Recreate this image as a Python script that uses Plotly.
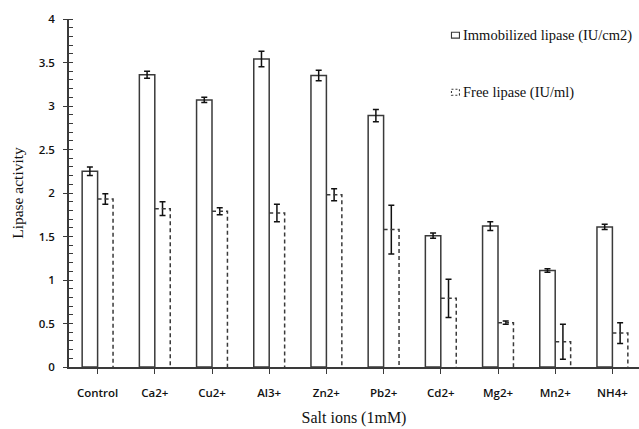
import plotly.graph_objects as go

# Lipase activity under different salt ions (1 mM)
categories = ["Control", "Ca2+", "Cu2+", "Al3+", "Zn2+", "Pb2+", "Cd2+", "Mg2+", "Mn2+", "NH4+"]
immobilized = [2.25, 3.36, 3.07, 3.54, 3.35, 2.89, 1.51, 1.62, 1.11, 1.61]
immobilized_err = [0.05, 0.04, 0.03, 0.09, 0.06, 0.07, 0.03, 0.05, 0.02, 0.03]
free = [1.93, 1.82, 1.79, 1.77, 1.98, 1.58, 0.79, 0.51, 0.29, 0.39]
free_err = [0.06, 0.08, 0.04, 0.10, 0.07, 0.28, 0.22, 0.02, 0.20, 0.12]
y_ticks = [0, 0.5, 1, 1.5, 2, 2.5, 3, 3.5, 4]

BAR_W = 0.27
INK = "#3a3a3a"
DASH = "4px,3px"
xs = list(range(len(categories)))

fig = go.Figure()

err_style = dict(type="data", visible=True, color="#111111", thickness=1.5, width=3)

fig.add_trace(go.Bar(
    x=xs, y=immobilized, name="Immobilized lipase (IU/cm2)",
    width=BAR_W, offset=-BAR_W,
    marker=dict(color="white", line=dict(color=INK, width=1.5)),
    error_y=dict(array=immobilized_err, **err_style),
    showlegend=False,
))

fig.add_trace(go.Bar(
    x=xs, y=free, name="Free lipase (IU/ml)",
    width=BAR_W, offset=0,
    marker=dict(color="rgba(255,255,255,0)", line=dict(width=0)),
    error_y=dict(array=free_err, **err_style),
    showlegend=False,
))

# dashed outlines (top and right side) for the free-lipase bars;
# the left side coincides with the neighbouring solid bar edge
shapes = []
for x, v in zip(xs, free):
    shapes.append(dict(
        type="path", xref="x", yref="y",
        path=f"M {x},{v} L {x + BAR_W},{v} L {x + BAR_W},0",
        line=dict(color=INK, width=1.5, dash=DASH),
        layer="above",
    ))

# legend keys
shapes.append(dict(type="rect", xref="paper", yref="paper",
                   x0=0.671, x1=0.685, y0=0.962, y1=0.945,
                   line=dict(color=INK, width=1.1), fillcolor="white"))
shapes.append(dict(type="rect", xref="paper", yref="paper",
                   x0=0.671, x1=0.685, y0=0.798, y1=0.781,
                   line=dict(color=INK, width=1.1, dash="2px,2px"), fillcolor="white"))

serif = "Liberation Serif"
annotations = [
    dict(text="Immobilized lipase (IU/cm2)", xref="paper", yref="paper",
         x=0.688, y=0.953, xanchor="left", yanchor="middle", showarrow=False,
         font=dict(family=serif, size=14.5, color="#111111")),
    dict(text="Free lipase (IU/ml)", xref="paper", yref="paper",
         x=0.688, y=0.789, xanchor="left", yanchor="middle", showarrow=False,
         font=dict(family=serif, size=14.5, color="#111111")),
]

fig.update_layout(
    width=639, height=429,
    margin=dict(l=69, r=0, t=19, b=62),
    paper_bgcolor="white", plot_bgcolor="white",
    shapes=shapes, annotations=annotations,
    showlegend=False,
)

fig.update_xaxes(
    range=[-0.5, 9.465],
    tickmode="array", tickvals=xs, ticktext=categories,
    showline=True, linecolor=INK, linewidth=1.5,
    ticks="outside", ticklen=5, tickcolor=INK, tickwidth=1.2,
    ticklabelstandoff=9,
    tickfont=dict(family="Open Sans", size=11.5, color="#111111", weight=600),
    showgrid=False, zeroline=False,
    title=dict(text="Salt ions (1mM)", standoff=13,
               font=dict(family=serif, size=16, color="#111111")),
)

fig.update_yaxes(
    range=[0, 4],
    tickmode="array", tickvals=y_ticks,
    ticktext=[f"{v:g}" for v in y_ticks],
    showline=True, linecolor=INK, linewidth=1.5,
    ticks="outside", ticklen=4, tickcolor=INK, tickwidth=1.2,
    ticklabelstandoff=6,
    tickfont=dict(family="Open Sans", size=11.5, color="#111111", weight=600),
    minor=dict(dtick=0.1, ticks="inside", ticklen=4, tickcolor=INK, tickwidth=1, showgrid=False),
    showgrid=False, zeroline=False,
    title=dict(text="Lipase activity", standoff=11,
               font=dict(family=serif, size=15.5, color="#111111")),
)

fig.write_html("out.html")
